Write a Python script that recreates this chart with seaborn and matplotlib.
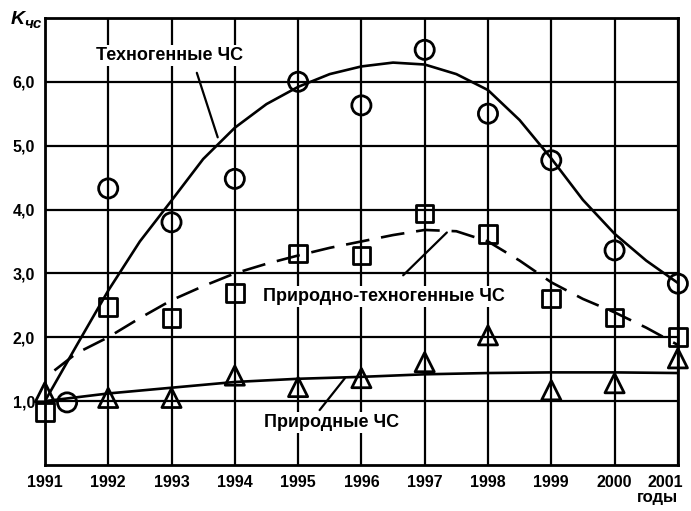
import numpy as np
import pandas as pd
import matplotlib
matplotlib.use("Agg")
import matplotlib.pyplot as plt
import matplotlib.transforms as mtransforms
import seaborn as sns

# Observed values (markers)
years = [1991, 1992, 1993, 1994, 1995, 1996, 1997, 1998, 1999, 2000, 2001]
circle_years = [1991.35, 1992, 1993, 1994, 1995, 1996, 1997, 1998, 1999, 2000, 2001]
tech_obs = [0.98, 4.33, 3.80, 4.48, 6.00, 5.63, 6.50, 5.50, 4.77, 3.36, 2.84]
nat_tech_obs = [0.83, 2.47, 2.30, 2.69, 3.31, 3.28, 3.94, 3.62, 2.61, 2.31, 2.00]
nat_obs = [1.14, 1.05, 1.05, 1.40, 1.22, 1.36, 1.61, 2.03, 1.17, 1.28, 1.67]

# Trend curves
tech_x = [1991, 1991.5, 1992, 1992.5, 1993, 1993.5, 1994, 1994.5, 1995, 1995.5,
          1996, 1996.5, 1997, 1997.5, 1998, 1998.5, 1999, 1999.5, 2000, 2000.5, 2001]
tech_y = [1.00, 1.87, 2.73, 3.50, 4.14, 4.79, 5.28, 5.65, 5.92, 6.12,
          6.24, 6.30, 6.27, 6.12, 5.87, 5.40, 4.80, 4.15, 3.62, 3.20, 2.85]

nt_x = [1991.15, 1991.5, 1992, 1992.5, 1993, 1993.5, 1994, 1994.5, 1995, 1995.5,
        1996, 1996.5, 1997, 1997.5, 1998, 1998.5, 1999, 1999.5, 2000, 2000.5, 2001]
nt_y = [1.48, 1.75, 2.00, 2.30, 2.58, 2.80, 3.00, 3.15, 3.28, 3.40,
        3.50, 3.60, 3.68, 3.66, 3.50, 3.20, 2.86, 2.60, 2.39, 2.15, 1.88]

nat_x = years
nat_y = [1.00, 1.12, 1.21, 1.30, 1.35, 1.38, 1.42, 1.44, 1.45, 1.45, 1.44]

sns.set_theme(style="white")
plt.rcParams["font.family"] = ["Liberation Sans", "DejaVu Sans"]
plt.rcParams["text.color"] = "black"
plt.rcParams["xtick.color"] = "black"
plt.rcParams["ytick.color"] = "black"

fig = plt.figure(figsize=(6.91, 5.11), dpi=100)
ax = fig.add_axes([0.065, 0.090, 0.916, 0.875])

# grid
for yr in years:
    ax.axvline(yr, color="black", lw=1.6, zorder=1)
for v in range(1, 7):
    ax.axhline(v, color="black", lw=1.6, zorder=1)

sns.lineplot(x=tech_x, y=tech_y, color="black", lw=1.9, ax=ax, zorder=3)
sns.lineplot(x=nt_x, y=nt_y, color="black", lw=1.9, ax=ax, zorder=3,
             linestyle=(0, (9, 4.5)))
sns.lineplot(x=nat_x, y=nat_y, color="black", lw=1.9, ax=ax, zorder=3)

sns.scatterplot(x=circle_years, y=tech_obs, marker="o", s=190, facecolors="none",
                edgecolor="black", linewidth=2, ax=ax, zorder=4, clip_on=False)
sns.scatterplot(x=years, y=nat_tech_obs, marker="s", s=160, facecolors="none",
                edgecolor="black", linewidth=2, ax=ax, zorder=4, clip_on=False)
sns.scatterplot(x=years, y=nat_obs, marker="^", s=190, facecolors="none",
                edgecolor="black", linewidth=2, ax=ax, zorder=4, clip_on=False)

# labels with leaders
box = dict(facecolor="white", edgecolor="none", pad=1.5)
ax.text(1992.97, 6.41, "Техногенные ЧС", ha="center", va="center",
        fontsize=13, fontweight="bold", bbox=box, zorder=5)
ax.plot([1993.40, 1993.73], [6.14, 5.13], color="black", lw=1.6, zorder=5)

ax.text(1996.36, 2.64, "Природно-техногенные ЧС", ha="center", va="center",
        fontsize=13, fontweight="bold", bbox=box, zorder=5)
ax.plot([1996.66, 1997.35], [2.97, 3.64], color="black", lw=1.6, zorder=5)

ax.text(1995.53, 0.67, "Природные ЧС", ha="center", va="center",
        fontsize=13, fontweight="bold", bbox=box, zorder=5)
ax.plot([1995.34, 1995.74], [0.86, 1.36], color="black", lw=1.6, zorder=5)

ax.set_xlim(1991, 2001)
ax.set_ylim(0, 7)
ax.set_xticks(years)
ax.set_xticklabels([str(y) for y in years], fontsize=11.5, fontweight="bold")
yt = [1, 2, 3, 4, 5, 6]
ax.set_yticks(yt)
ax.set_yticklabels([f"{v:.1f}".replace(".", ",") for v in yt], fontsize=11.5, fontweight="bold")
ax.tick_params(length=0, pad=7)
ax.set_xlabel("")
ax.set_ylabel("")
for sp in ax.spines.values():
    sp.set_color("black")
    sp.set_linewidth(2)

# last year label sits a little left of its gridline, as in the original
last = ax.get_xticklabels()[-1]
last.set_transform(last.get_transform() +
                   mtransforms.ScaledTranslation(-9 / 72, 0, fig.dpi_scale_trans))

fig.text(0.015, 0.962, "K", fontsize=14, fontstyle="italic", fontweight="bold",
         ha="left", va="center")
fig.text(0.035, 0.953, "чс", fontsize=11, fontweight="bold", fontstyle="italic",
         ha="left", va="center")
fig.text(0.951, 0.026, "годы", fontsize=12, fontweight="bold", ha="center", va="center")

fig.savefig("out.png", dpi=100)
